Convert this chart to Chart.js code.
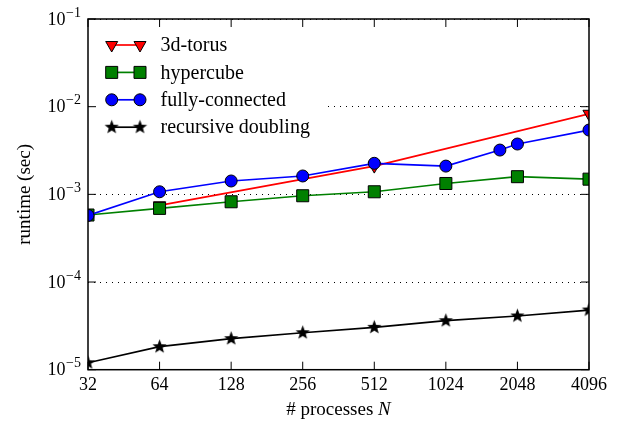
<!DOCTYPE html>
<html>
<head>
<meta charset="utf-8">
<script src="https://cdn.jsdelivr.net/npm/chart.js@4/dist/chart.umd.min.js"></script>
<style>
  html, body { margin: 0; padding: 0; background: #fff; }
  #chart { display: block; }
</style>
</head>
<body>
<canvas id="chart" width="617" height="426"></canvas>
<script>
// values
const xTicks = [32, 64, 128, 256, 512, 1024, 2048, 4096];
const yTicks = [1e-5, 1e-4, 1e-3, 1e-2, 1e-1];
const yTickExp = ['−5', '−4', '−3', '−2', '−1'];

const torusN = [64, 512, 4096];
const torusTime = [7.5e-4, 2.1e-3, 8.3e-3];

const hyperN = [32, 64, 128, 256, 512, 1024, 2048, 4096];
const hyperTime = [5.81e-4, 6.92e-4, 8.23e-4, 9.64e-4, 1.07e-3, 1.33e-3, 1.59e-3, 1.49e-3];

const fullN = [32, 64, 128, 256, 512, 1024, 1728, 2048, 4096];
const fullTime = [5.75e-4, 1.07e-3, 1.42e-3, 1.62e-3, 2.26e-3, 2.10e-3, 3.2e-3, 3.75e-3, 5.41e-3];

const recN = [32, 64, 128, 256, 512, 1024, 2048, 4096];
const recTime = [1.2e-5, 1.83e-5, 2.26e-5, 2.64e-5, 3.04e-5, 3.62e-5, 4.1e-5, 4.79e-5];

const serif = "'Liberation Serif', serif";

function pairs(xs, ys) {
    return xs.map((x, i) => ({ x: x, y: ys[i] }));
}

// filled five point star, matplotlib style
function makeStar(r) {
    const c = document.createElement('canvas');
    const s = Math.ceil(r * 2 + 2);
    c.width = s;
    c.height = s;
    const g = c.getContext('2d');
    g.beginPath();
    for (let i = 0; i < 10; i++) {
        const rad = i % 2 === 0 ? r : r * 0.42;
        const a = -Math.PI / 2 + i * Math.PI / 5;
        const px = s / 2 + rad * Math.cos(a);
        const py = s / 2 + rad * Math.sin(a);
        if (i === 0) g.moveTo(px, py); else g.lineTo(px, py);
    }
    g.closePath();
    g.fillStyle = '#000';
    g.fill();
    return c;
}
const star = makeStar(7.5);

const series = [
    { label: '3d-torus', color: '#ff0000', marker: 'tri' },
    { label: 'hypercube', color: '#008000', marker: 'square' },
    { label: 'fully-connected', color: '#0000ff', marker: 'circle' },
    { label: 'recursive doubling', color: '#000000', marker: 'star' }
];

function drawMarker(ctx, kind, x, y, color) {
    ctx.save();
    ctx.fillStyle = color;
    ctx.strokeStyle = '#000';
    ctx.lineWidth = 1;
    if (kind === 'star') {
        ctx.drawImage(star, x - star.width / 2, y - star.height / 2);
    } else {
        ctx.beginPath();
        if (kind === 'circle') {
            ctx.arc(x, y, 6, 0, Math.PI * 2);
        } else if (kind === 'square') {
            ctx.rect(x - 6, y - 6, 12, 12);
        } else {
            ctx.moveTo(x - 6, y - 3.5);
            ctx.lineTo(x + 6, y - 3.5);
            ctx.lineTo(x, y + 7);
            ctx.closePath();
        }
        ctx.fill();
        ctx.stroke();
    }
    ctx.restore();
}

const framePlugin = {
    id: 'frame',
    afterDraw(chart) {
        const ctx = chart.ctx;
        const a = chart.chartArea;
        const xs = chart.scales.x;
        const ys = chart.scales.y;

        // legend on a white box
        ctx.save();
        ctx.fillStyle = '#fff';
        ctx.fillRect(a.left + 1, a.top + 1, 235, 122);
        ctx.font = '20px ' + serif;
        ctx.textBaseline = 'middle';
        series.forEach((s, i) => {
            const yy = 45 + i * 27.4;
            ctx.strokeStyle = s.color;
            ctx.lineWidth = 1.7;
            ctx.beginPath();
            ctx.moveTo(111.7, yy);
            ctx.lineTo(140, yy);
            ctx.stroke();
            drawMarker(ctx, s.marker, 111.7, yy, s.color);
            drawMarker(ctx, s.marker, 140, yy, s.color);
            ctx.fillStyle = '#000';
            ctx.fillText(s.label, 160.5, yy + 1);
        });
        ctx.restore();

        // y tick labels as 10 with a raised exponent
        ctx.save();
        ctx.fillStyle = '#000';
        ctx.textBaseline = 'middle';
        ctx.textAlign = 'right';
        yTicks.forEach((v, i) => {
            const py = ys.getPixelForValue(v);
            ctx.font = '14px ' + serif;
            const we = ctx.measureText(yTickExp[i]).width;
            ctx.fillText(yTickExp[i], 81, py - 6);
            ctx.font = '18px ' + serif;
            ctx.fillText('10', 81 - we - 0.5, py + 1);
        });
        ctx.restore();

        // inward ticks
        ctx.save();
        ctx.strokeStyle = '#000';
        ctx.lineWidth = 1;
        ctx.beginPath();
        xTicks.forEach(v => {
            const px = xs.getPixelForValue(v);
            ctx.moveTo(px, a.bottom);
            ctx.lineTo(px, a.bottom - 8);
            ctx.moveTo(px, a.top);
            ctx.lineTo(px, a.top + 8);
        });
        yTicks.forEach(v => {
            const py = ys.getPixelForValue(v);
            ctx.moveTo(a.left, py);
            ctx.lineTo(a.left + 8, py);
            ctx.moveTo(a.right, py);
            ctx.lineTo(a.right - 8, py);
        });
        ctx.stroke();

        // frame
        ctx.lineWidth = 1.5;
        ctx.strokeRect(a.left, a.top, a.right - a.left, a.bottom - a.top);

        // x title with italic N
        const t1 = '# processes ';
        const t2 = 'N';
        ctx.fillStyle = '#000';
        ctx.textBaseline = 'middle';
        ctx.font = '19px ' + serif;
        const w1 = ctx.measureText(t1).width;
        ctx.font = 'italic 19px ' + serif;
        const w2 = ctx.measureText(t2).width;
        const x0 = (a.left + a.right) / 2 - (w1 + w2) / 2;
        ctx.font = '19px ' + serif;
        ctx.fillText(t1, x0, 410);
        ctx.font = 'italic 19px ' + serif;
        ctx.fillText(t2, x0 + w1, 410);
        ctx.restore();
    }
};

function mkSet(i, xs, ys, extra) {
    const s = series[i];
    return Object.assign({
        label: s.label,
        data: pairs(xs, ys),
        borderColor: s.color,
        backgroundColor: s.color,
        pointBackgroundColor: s.color,
        pointBorderColor: '#000',
        pointBorderWidth: 1,
        borderWidth: 1.7,
        tension: 0,
        clip: 0,
        order: 4 - i
    }, extra);
}

new Chart(document.getElementById('chart'), {
    type: 'line',
    data: {
        datasets: [
            mkSet(0, torusN, torusTime, { pointStyle: 'triangle', pointRotation: 180, pointRadius: 7 }),
            mkSet(1, hyperN, hyperTime, { pointStyle: 'rect', pointRadius: 8.5 }),
            mkSet(2, fullN, fullTime, { pointStyle: 'circle', pointRadius: 6 }),
            mkSet(3, recN, recTime, { pointStyle: star, pointRadius: 7 })
        ]
    },
    options: {
        responsive: false,
        animation: false,
        devicePixelRatio: 1,
        layout: { padding: { left: 0, right: 28, top: 19, bottom: 0 } },
        plugins: {
            legend: { display: false },
            tooltip: { enabled: false }
        },
        scales: {
            x: {
                type: 'logarithmic',
                min: 32,
                max: 4096,
                afterBuildTicks: s => { s.ticks = xTicks.map(v => ({ value: v })); },
                afterFit: s => { s.height = 426 - 369.7; },
                grid: { display: false, drawTicks: false },
                border: { display: false },
                ticks: {
                    color: '#000',
                    font: { family: serif, size: 18 },
                    padding: 5,
                    maxRotation: 0,
                    autoSkip: false,
                    callback: v => String(v)
                }
            },
            y: {
                type: 'logarithmic',
                min: 1e-5,
                max: 1e-1,
                afterBuildTicks: s => { s.ticks = yTicks.map(v => ({ value: v })); },
                afterFit: s => { s.width = 88; },
                grid: { color: '#000', lineWidth: 1, drawTicks: false },
                border: { display: false, dash: [1, 5] },
                ticks: { display: false },
                title: {
                    display: true,
                    text: 'runtime (sec)',
                    color: '#000',
                    font: { family: serif, size: 19 },
                    padding: { top: 14, bottom: 0 }
                }
            }
        }
    },
    plugins: [framePlugin]
});
</script>
</body>
</html>
